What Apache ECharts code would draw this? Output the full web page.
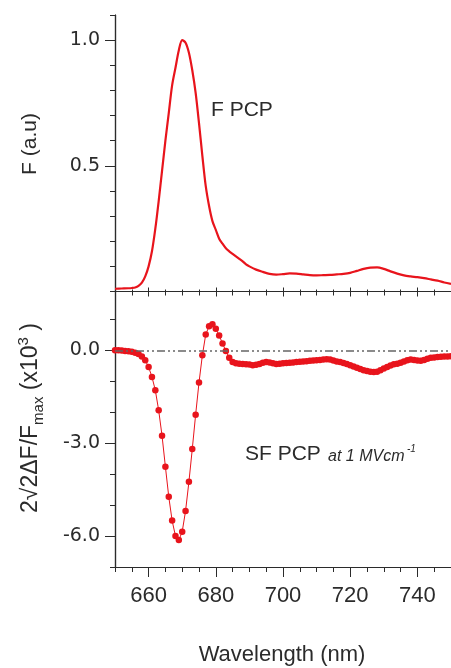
<!DOCTYPE html>
<html>
<head>
<meta charset="utf-8">
<script src="https://cdn.jsdelivr.net/npm/echarts@6/dist/echarts.min.js"></script>
<style>
  html, body { margin: 0; padding: 0; background: #fff; }
  #main { width: 451px; height: 668px; }
</style>
</head>
<body>
<div id="main"></div>
<script>
// F PCP fluorescence (top panel)
const fWl = [650, 652, 654, 655, 656, 657, 658, 659, 660, 661, 662, 663, 664, 665, 666, 667, 668, 669, 670,
  671, 672, 673, 674, 675, 676, 677, 678, 679, 680, 681, 682, 683, 684, 685, 686, 687, 688, 689, 690,
  692, 694, 696, 698, 700, 702, 704, 706, 708, 710, 712, 714, 716, 718, 720, 722, 724, 726, 728, 730,
  732, 734, 736, 738, 740, 742, 744, 746, 748, 750];
const fVal = [0.011, 0.012, 0.013, 0.014, 0.016, 0.022, 0.035, 0.06, 0.1, 0.16, 0.25, 0.36, 0.48, 0.6, 0.71, 0.82, 0.89, 0.96, 1.0,
  0.99, 0.95, 0.88, 0.79, 0.67, 0.54, 0.42, 0.34, 0.28, 0.245, 0.21, 0.19, 0.172, 0.16, 0.15, 0.14, 0.13, 0.12, 0.108, 0.1,
  0.087, 0.078, 0.07, 0.067, 0.069, 0.072, 0.071, 0.068, 0.065, 0.064, 0.065, 0.066, 0.068, 0.07, 0.074, 0.082, 0.09, 0.095, 0.096, 0.09,
  0.08, 0.071, 0.064, 0.06, 0.057, 0.053, 0.048, 0.043, 0.036, 0.03];

// SF PCP Stark signal at 1 MV/cm (bottom panel), 1 nm steps
const sfWl = [650, 651, 652, 653, 654, 655, 656, 657, 658, 659, 660, 661, 662, 663, 664, 665, 666, 667, 668, 669,
  670, 671, 672, 673, 674, 675, 676, 677, 678, 679, 680, 681, 682, 683, 684, 685, 686, 687, 688, 689,
  690, 691, 692, 693, 694, 695, 696, 697, 698, 699, 700, 701, 702, 703, 704, 705, 706, 707, 708, 709,
  710, 711, 712, 713, 714, 715, 716, 717, 718, 719, 720, 721, 722, 723, 724, 725, 726, 727, 728, 729,
  730, 731, 732, 733, 734, 735, 736, 737, 738, 739, 740, 741, 742, 743, 744, 745, 746, 747, 748, 749, 750];
const sfVal = [0.0, 0.0, -0.01, -0.02, -0.03, -0.05, -0.08, -0.12, -0.2, -0.32, -0.54, -0.86, -1.29, -1.94, -2.76, -3.76, -4.73, -5.5, -6.0, -6.13,
  -5.86, -5.19, -4.25, -3.19, -2.08, -1.04, -0.16, 0.51, 0.78, 0.84, 0.7, 0.48, 0.22, -0.02, -0.24, -0.38, -0.42, -0.43, -0.44, -0.45,
  -0.46, -0.48, -0.47, -0.44, -0.4, -0.38, -0.39, -0.42, -0.44, -0.43, -0.42, -0.41, -0.4, -0.39, -0.38, -0.37, -0.36, -0.35, -0.34, -0.33,
  -0.32, -0.31, -0.3, -0.29, -0.3, -0.33, -0.36, -0.38, -0.41, -0.44, -0.48, -0.52, -0.56, -0.6, -0.64, -0.67, -0.69, -0.7, -0.69, -0.64,
  -0.59, -0.54, -0.49, -0.45, -0.43, -0.4, -0.36, -0.32, -0.3, -0.31, -0.33, -0.34, -0.31, -0.27, -0.24, -0.23, -0.22, -0.21, -0.2, -0.2, -0.19];

const xMajor = [660, 680, 700, 720, 740];
const fMajor = [0.5, 1.0];
const sfMajor = [-6, -3, 0];

const font = 'Liberation Sans, Arial, Helvetica, sans-serif';
const numFont = 'DejaVu Sans, Liberation Sans, sans-serif';
const ink = '#2b2b2b';
const red = '#e8141c';

const chart = echarts.init(document.getElementById('main'));

const line = { onZero: false, lineStyle: { color: ink, width: 1.2 } };
const noSplit = { show: false };

function xAx(grid, pos, opts) {
  return Object.assign({
    type: 'value', gridIndex: grid, position: pos, min: 650, max: 750,
    axisLine: line, splitLine: noSplit, axisLabel: { show: false }
  }, opts);
}
function yAx(grid, min, max, opts) {
  return Object.assign({
    type: 'value', gridIndex: grid, position: 'left', min: min, max: max,
    axisLine: line, splitLine: noSplit, axisLabel: { show: false }
  }, opts);
}

const option = {
  animation: false,
  grid: [
    { left: 115, top: 15, width: 339, height: 276.5 },
    { left: 115, top: 291.5, width: 339, height: 275.5 }
  ],
  xAxis: [
    xAx(0, 'bottom', { interval: 5, axisTick: { length: 4, lineStyle: { color: ink } } }),
    xAx(0, 'bottom', { axisTick: { length: 5, customValues: xMajor, lineStyle: { color: ink } } }),
    xAx(1, 'bottom', { interval: 5, axisTick: { length: 5, lineStyle: { color: ink } } }),
    xAx(1, 'bottom', {
      axisTick: { length: 10, customValues: xMajor, lineStyle: { color: ink } },
      axisLabel: { show: true, customValues: xMajor, margin: 18, color: ink, fontSize: 22, fontFamily: font }
    }),
    xAx(1, 'top', { interval: 5, axisTick: { length: 2, lineStyle: { color: ink } } }),
    xAx(1, 'top', { axisTick: { length: 4, customValues: xMajor, lineStyle: { color: ink } } })
  ],
  yAxis: [
    yAx(0, 0, 1.1, { interval: 0.1, axisTick: { length: 5, lineStyle: { color: ink } } }),
    yAx(0, 0, 1.1, {
      axisTick: { length: 10, customValues: fMajor, lineStyle: { color: ink } },
      axisLabel: { show: true, customValues: fMajor, margin: 15, color: ink, fontSize: 19, fontFamily: numFont,
        formatter: v => v.toFixed(1) }
    }),
    yAx(1, -7, 1.9, { interval: 1, axisTick: { length: 5, lineStyle: { color: ink } } }),
    yAx(1, -7, 1.9, {
      axisTick: { length: 10, customValues: sfMajor, lineStyle: { color: ink } },
      axisLabel: { show: true, customValues: sfMajor, margin: 15, color: ink, fontSize: 19, fontFamily: numFont,
        formatter: v => v.toFixed(1) }
    })
  ],
  series: [
    {
      name: 'F PCP', type: 'line', xAxisIndex: 0, yAxisIndex: 0,
      data: fWl.map((w, i) => [w, fVal[i]]),
      smooth: 0.3, showSymbol: false,
      lineStyle: { color: red, width: 2.2 }
    },
    {
      name: 'SF PCP', type: 'line', xAxisIndex: 2, yAxisIndex: 2,
      data: sfWl.map((w, i) => [w, sfVal[i]]),
      symbol: 'circle', symbolSize: 6.5, showAllSymbol: true,
      itemStyle: { color: red },
      lineStyle: { color: red, width: 1 },
      markLine: {
        silent: true, symbol: ['none', 'none'], label: { show: false },
        lineStyle: { color: '#666', width: 1.6, type: [8, 3, 2, 3, 2, 3] },
        data: [{ yAxis: 0 }]
      }
    }
  ],
  graphic: [
    {
      type: 'text', x: 30, y: 144, rotation: Math.PI / 2,
      style: { text: 'F (a.u)', fill: ink, fontSize: 21, fontFamily: font, textAlign: 'center', textVerticalAlign: 'middle' }
    },
    {
      type: 'text', x: 31, y: 418, rotation: Math.PI / 2,
      style: {
        text: '{m|2√2ΔF/F}{sub|max}{m| (x10}{sup|3}{m| )}',
        fill: ink, fontFamily: font, textAlign: 'center', textVerticalAlign: 'middle',
        rich: {
          m: { fontSize: 23, lineHeight: 30, fill: ink, fontFamily: font },
          sub: { fontSize: 15, lineHeight: 18, verticalAlign: 'bottom', fill: ink, fontFamily: font },
          sup: { fontSize: 15, lineHeight: 16, verticalAlign: 'top', fill: ink, fontFamily: font }
        }
      }
    },
    {
      type: 'text', x: 282, y: 655,
      style: { text: 'Wavelength (nm)', fill: ink, fontSize: 22, fontFamily: font, textAlign: 'center', textVerticalAlign: 'middle' }
    },
    {
      type: 'text', x: 211, y: 110,
      style: { text: 'F PCP', fill: ink, fontSize: 21, fontFamily: font, textAlign: 'left', textVerticalAlign: 'middle' }
    },
    {
      type: 'text', x: 245, y: 465,
      style: { text: 'SF PCP', fill: ink, fontSize: 21, fontFamily: font, textAlign: 'left', textVerticalAlign: 'bottom' }
    },
    {
      type: 'text', x: 328, y: 464.5,
      style: { text: 'at 1 MVcm', fill: ink, fontSize: 16, fontStyle: 'italic', fontFamily: font, textAlign: 'left', textVerticalAlign: 'bottom' }
    },
    {
      type: 'text', x: 407, y: 444,
      style: { text: '-1', fill: ink, fontSize: 10, fontStyle: 'italic', fontFamily: font, textAlign: 'left', textVerticalAlign: 'top' }
    }
  ]
};

chart.setOption(option);
</script>
</body>
</html>
